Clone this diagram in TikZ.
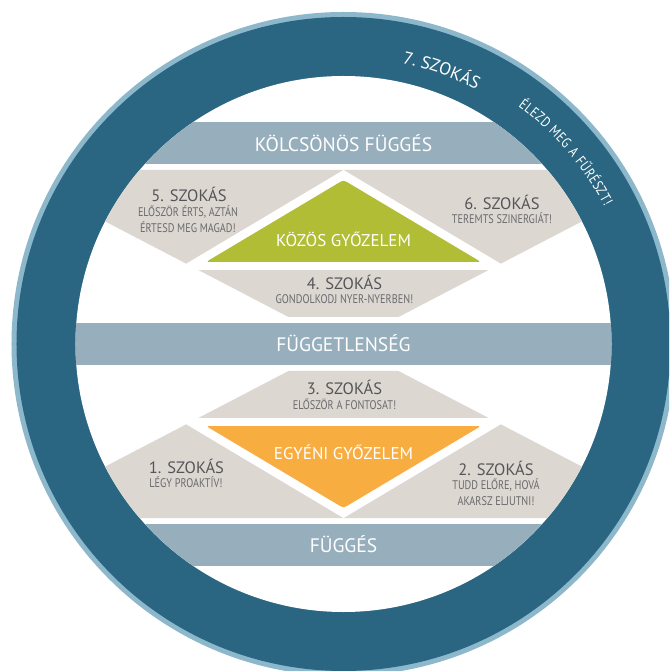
\documentclass[tikz,border=0pt]{standalone}
\usepackage{fontspec}
\setmainfont{PT Sans}
\newfontfamily\condfont[FakeStretch=0.82]{PT Sans}
\usetikzlibrary{decorations.text}

\definecolor{ringblue}{HTML}{2A6681}
\definecolor{ringedge}{HTML}{8DB8CB}
\definecolor{barblue}{HTML}{97AFBD}
\definecolor{habitgray}{HTML}{DDD7D2}
\definecolor{wingreen}{HTML}{B1BD35}
\definecolor{winorange}{HTML}{F8AD41}
\definecolor{titlegray}{HTML}{555557}
\definecolor{mottogray}{HTML}{6A6A6C}

\tikzset{
  barlabel/.style={text=white, anchor=base, inner sep=0pt, font=\fontsize{19.5}{19.5}\selectfont},
  winlabel/.style={text=white, anchor=base, inner sep=0pt, font=\fontsize{17}{17}\selectfont},
  habit/.style={text=titlegray, anchor=base, inner sep=0pt, font=\fontsize{16.5}{16.5}\selectfont},
  motto/.style={text=mottogray, anchor=base, inner sep=0pt, align=center, font=\condfont\fontsize{12.5}{15.5}\selectfont},
}

\begin{document}
\begin{tikzpicture}[x=1pt, y=1pt]
  \useasboundingbox (-343.5,-327) rectangle (325.5,344);
  \clip (-343.5,-327) rectangle (325.5,344);

  % ring
  \fill[ringedge] (0,0) circle (332pt);
  \fill[ringblue] (0,0) circle (327pt);
  \fill[white] (0,0) circle (268pt);

  \begin{scope}
    \clip (0,0) circle (268pt);
    \fill[barblue] (-270,179.5) rectangle (270,221.5);
    \fill[barblue] (-270,-21) rectangle (270,21);
    \fill[barblue] (-270,-221.5) rectangle (270,-179.5);

    \fill[habitgray] (-337,174)--(337,174)--(55,27)--(-55,27)--cycle;
    \fill[habitgray] (-337,-174)--(337,-174)--(55,-27)--(-55,-27)--cycle;
  \end{scope}

  \fill[white] (0,174)--(167.8,74)--(-167.8,74)--cycle;
  \fill[white] (0,-174)--(167.8,-74)--(-167.8,-74)--cycle;

  \fill[wingreen, rounded corners=3pt] (0,82)--(137.5,82)--(0,164)--(-137.5,82)--cycle;
  \fill[winorange, rounded corners=3pt] (0,-82)--(137.5,-82)--(0,-164)--(-137.5,-82)--cycle;

  \node[barlabel] (kolcsonos) at (0,192.5) {KÖLCSÖNÖS FÜGGÉS};
  \node[barlabel] (fuggetlen) at (0,-8) {FÜGGETLENSÉG};
  \node[barlabel] (fugges) at (0,-208.5) {FÜGGÉS};

  \node[winlabel] (kozos) at (0,97.3) {KÖZÖS GYŐZELEM};
  \node[winlabel] (egyeni) at (0,-115) {EGYÉNI GYŐZELEM};

  \node[habit] (h5) at (-154.5,142) {5. SZOKÁS};
  \node[motto] (m5) at (-155.5,111.5) {ELŐSZÖR ÉRTS, AZTÁN\\ÉRTESD MEG MAGAD!};
  \node[habit] (h6) at (158.5,134) {6. SZOKÁS};
  \node[motto] (m6) at (158.5,120.7) {TEREMTS SZINERGIÁT!};
  \node[habit] (h4) at (1,54) {4. SZOKÁS};
  \node[motto] (m4) at (1,40.7) {GONDOLKODJ NYER-NYERBEN!};
  \node[habit] (h3) at (1,-51) {3. SZOKÁS};
  \node[motto] (m3) at (1,-65.3) {ELŐSZÖR A FONTOSAT!};
  \node[habit] (h1) at (-157,-129.3) {1. SZOKÁS};
  \node[motto] (m1) at (-157.5,-143.3) {LÉGY PROAKTÍV!};
  \node[habit] (h2) at (152.5,-131) {2. SZOKÁS};
  \node[motto] (m2) at (152.5,-161) {TUDD ELŐRE, HOVÁ\\AKARSZ ELJUTNI!};

  % ring texts
  \path[decorate, decoration={text along path, text align=center, text color=white,
    text={|\fontsize{17.5}{17.5}\selectfont|7. SZOKÁS}}]
    (90.3:287pt) arc[start angle=90.3, end angle=50.3, radius=287pt];
  \path[decorate, decoration={text along path, text align=fit to path, text color=white,
    text={|\condfont\fontsize{14.5}{14.5}\selectfont|ÉLEZD MEG A FŰRÉSZT!}}]
    (53.7:295pt) arc[start angle=53.7, end angle=27.8, radius=295pt];
\end{tikzpicture}
\end{document}
